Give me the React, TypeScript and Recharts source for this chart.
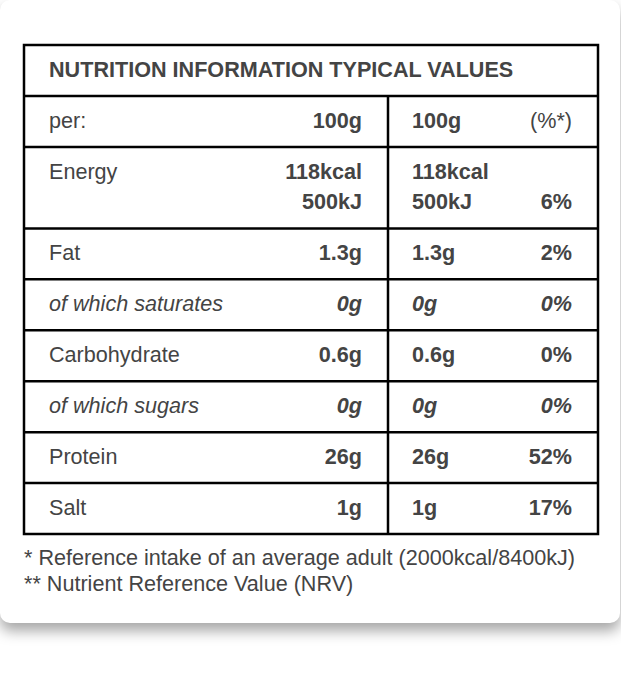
import React from "react";
import { ScatterChart, Scatter, XAxis, YAxis, ReferenceLine, ReferenceArea } from "recharts";

// ---- data ----
const title = "NUTRITION INFORMATION TYPICAL VALUES";
const perRow = ["per:", "100g", "100g", "(%*)"];
const nutrients = ["Energy", "Fat", "of which saturates", "Carbohydrate", "of which sugars", "Protein", "Salt"];
const subRows = [false, false, true, false, true, false, false];
const per100g = [["118kcal", "500kJ"], ["1.3g"], ["0g"], ["0.6g"], ["0g"], ["26g"], ["1g"]];
const perPortion = [["118kcal", "500kJ"], ["1.3g"], ["0g"], ["0.6g"], ["0g"], ["26g"], ["1g"]];
const riPercent = ["6%", "2%", "0%", "0%", "0%", "52%", "17%"];
const footnotes = [
  "* Reference intake of an average adult (2000kcal/8400kJ)",
  "** Nutrient Reference Value (NRV)",
];

// ---- layout (table units) ----
const TABLE_W = 574;
const DIVIDER_X = 364;
const COL_LABEL = 25;
const COL_V1 = 338;
const COL_V2 = 388;
const COL_PCT = 548;
const ROW_UNIT_SPAN = (n: number) => (n > 1 ? 1.6 : 1);
const TEXT_OFF = 0.48;
const LINE_GAP = 0.59;

const FONT = "'Liberation Sans', Arial, Helvetica, sans-serif";
const TEXT_COLOR = "#444";

type Cell = { x: number; y: number; text: string; anchor: "start" | "end"; bold: boolean; italic: boolean };

const rowStarts: number[] = [];
let acc = 2;
nutrients.forEach((_, i) => {
  rowStarts.push(acc);
  acc += ROW_UNIT_SPAN(per100g[i].length);
});
const TOTAL = acc;

const cells: Cell[] = [];
cells.push({ x: COL_LABEL, y: TEXT_OFF, text: title, anchor: "start", bold: true, italic: false });
cells.push({ x: COL_LABEL, y: 1 + TEXT_OFF, text: perRow[0], anchor: "start", bold: false, italic: false });
cells.push({ x: COL_V1, y: 1 + TEXT_OFF, text: perRow[1], anchor: "end", bold: true, italic: false });
cells.push({ x: COL_V2, y: 1 + TEXT_OFF, text: perRow[2], anchor: "start", bold: true, italic: false });
cells.push({ x: COL_PCT, y: 1 + TEXT_OFF, text: perRow[3], anchor: "end", bold: false, italic: false });
nutrients.forEach((name, i) => {
  const top = rowStarts[i] + TEXT_OFF;
  const it = subRows[i];
  cells.push({ x: COL_LABEL, y: top, text: name, anchor: "start", bold: false, italic: it });
  per100g[i].forEach((v, j) =>
    cells.push({ x: COL_V1, y: top + j * LINE_GAP, text: v, anchor: "end", bold: true, italic: it })
  );
  perPortion[i].forEach((v, j) =>
    cells.push({ x: COL_V2, y: top + j * LINE_GAP, text: v, anchor: "start", bold: true, italic: it })
  );
  cells.push({
    x: COL_PCT,
    y: top + (per100g[i].length - 1) * LINE_GAP,
    text: riPercent[i],
    anchor: "end",
    bold: true,
    italic: it,
  });
});

const boundaries = [1, 2, ...rowStarts.slice(1)];

const TextShape = (props: any) => {
  const { cx, cy, payload } = props;
  return (
    <text
      x={cx}
      y={cy}
      textAnchor={payload.anchor}
      dominantBaseline="central"
      fontFamily={FONT}
      fontSize={21.6}
      fontWeight={payload.bold ? 700 : 400}
      fontStyle={payload.italic ? "italic" : "normal"}
      fill={TEXT_COLOR}
    >
      {payload.text}
    </text>
  );
};

export default function App() {
  return (
    <div style={{ position: "absolute", left: 0, top: 0, width: 621, height: 687, background: "#fff", overflow: "hidden" }}>
      <div
        style={{
          position: "absolute",
          left: 0,
          top: 0,
          width: 620,
          height: 623,
          borderRadius: 10,
          background: "#fff",
          boxShadow: "0 8px 14px rgba(0,0,0,0.35)",
        }}
      />
      <div style={{ position: "absolute", left: 0, top: 0 }}>
        <ScatterChart width={621} height={560} margin={{ top: 45, left: 24, right: 23, bottom: 26 }}>
          <XAxis type="number" dataKey="x" domain={[0, TABLE_W]} hide />
          <YAxis type="number" dataKey="y" domain={[0, TOTAL]} reversed hide />
          <ReferenceArea x1={0} x2={TABLE_W} y1={0} y2={TOTAL} fill="none" stroke="#000" strokeWidth={2.5} />
          {boundaries.map((b) => (
            <ReferenceLine key={b} y={b} stroke="#000" strokeWidth={2.5} />
          ))}
          <ReferenceLine
            segment={[
              { x: DIVIDER_X, y: 1 },
              { x: DIVIDER_X, y: TOTAL },
            ]}
            stroke="#000"
            strokeWidth={2.5}
          />
          <Scatter data={cells} shape={TextShape} isAnimationActive={false} />
        </ScatterChart>
      </div>
      {footnotes.map((f, i) => (
        <div
          key={i}
          style={{
            position: "absolute",
            left: 24,
            top: 545 + i * 26,
            fontFamily: FONT,
            fontSize: 21.6,
            lineHeight: "26px",
            color: TEXT_COLOR,
            whiteSpace: "nowrap",
          }}
        >
          {f}
        </div>
      ))}
    </div>
  );
}
